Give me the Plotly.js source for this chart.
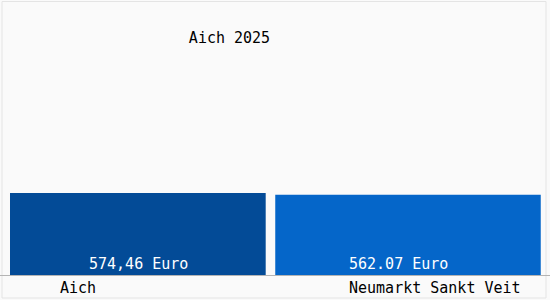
<!DOCTYPE html>
<html>
<head>
<meta charset="utf-8">
<script src="https://cdn.plot.ly/plotly-3.0.1.min.js"></script>
<style>
html,body{margin:0;padding:0;background:#fafafa;}
#chart{width:550px;height:300px;}
</style>
</head>
<body>
<div id="chart"></div>
<script>
const categories = ["Aich", "Neumarkt Sankt Veit"];
const values = [574.46, 562.07];
const valueLabels = ["574,46 Euro", "562.07 Euro"];
const barColors = ["#034b97", "#0566c9"];
const chartTitle = "Aich 2025";

const FONT = "DejaVu Sans Mono, monospace";
const W = 550, H = 300;

const trace = {
  type: "bar",
  x: [0, 1],
  y: values,
  width: [0.9465, 0.9828],
  marker: {color: barColors, line: {width: 0}},
  hoverinfo: "none",
  textposition: "none"
};

const labelX = [77.5, 434.5];      // pixel centres of category labels
const valueX = [138, 398];         // pixel centres of value labels

const annotations = [];
categories.forEach((c, i) => {
  annotations.push({
    text: c, xref: "paper", yref: "paper",
    x: labelX[i] / W, y: 1 - 288 / H,
    xanchor: "center", yanchor: "middle", showarrow: false,
    font: {family: FONT, size: 15, color: "#000000"}
  });
  annotations.push({
    text: valueLabels[i], xref: "paper", yref: "y",
    x: valueX[i] / W, y: 0, yshift: 0,
    xanchor: "center", yanchor: "bottom", showarrow: false,
    font: {family: FONT, size: 15, color: "#ffffff"}
  });
});

const unit = 270.15, c0 = 137.85;

const layout = {
  width: W, height: H,
  margin: {l: 0, r: 0, t: 0, b: 0, pad: 0},
  paper_bgcolor: "#fafafa",
  plot_bgcolor: "rgba(0,0,0,0)",
  title: {
    text: chartTitle,
    font: {family: FONT, size: 15, color: "#000000"},
    x: 229.5 / W, xanchor: "center",
    y: 1 - 38 / H, yanchor: "middle"
  },
  showlegend: false,
  xaxis: {
    domain: [0, 1],
    range: [-c0 / unit, (W - c0) / unit],
    showticklabels: false, showgrid: false, zeroline: false,
    showline: false, ticks: "", fixedrange: true
  },
  yaxis: {
    domain: [25 / H, 1],
    range: [0, 275 / 82 * 574.46],
    showticklabels: false, showgrid: false, zeroline: false,
    showline: false, ticks: "", fixedrange: true
  },
  shapes: [
    {type: "rect", xref: "paper", yref: "paper",
     x0: 2 / W, x1: 546 / W, y0: 1 - 298 / H, y1: 1 - 1.5 / H,
     line: {color: "#e4e4e4", width: 1}, layer: "below"},
    {type: "line", xref: "paper", yref: "paper",
     x0: 0, x1: 1, y0: 1 - 275.5 / H, y1: 1 - 275.5 / H,
     line: {color: "#b4b4b4", width: 1}, layer: "above"}
  ],
  annotations: annotations
};

Plotly.newPlot("chart", [trace], layout, {displayModeBar: false, staticPlot: true});
</script>
</body>
</html>
